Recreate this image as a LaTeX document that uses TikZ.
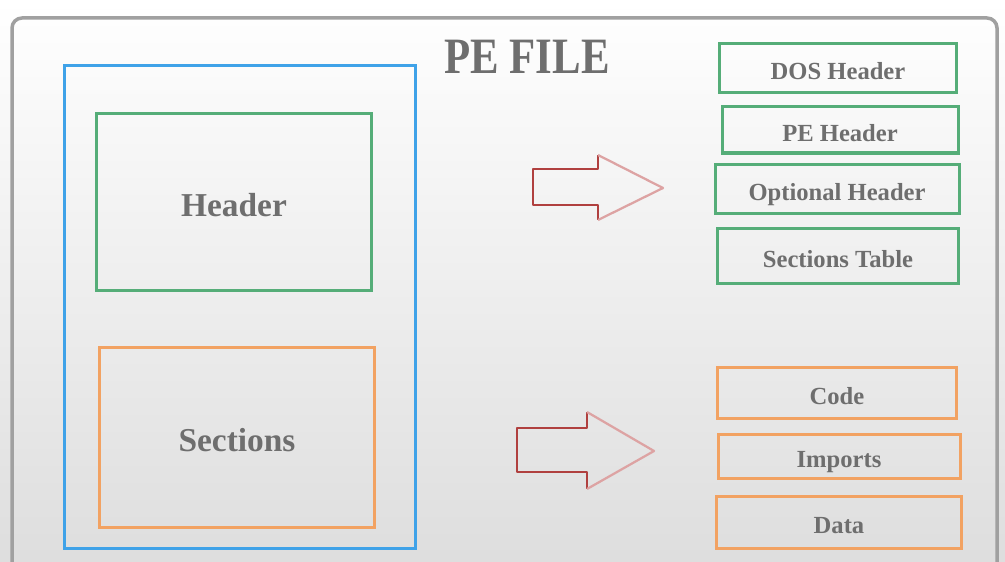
\documentclass[tikz,border=0pt]{standalone}
\usepackage{fontspec}
\setmainfont{Liberation Serif}
\newfontfamily\titlefont[FakeStretch=0.84]{Liberation Serif}
\usetikzlibrary{positioning}

\definecolor{penGray}{HTML}{A0A0A0}
\definecolor{textGray}{HTML}{6E6E6E}
\definecolor{fileBlue}{HTML}{3FA2E8}
\definecolor{hdrGreen}{HTML}{55AD78}
\definecolor{secOrange}{HTML}{F2A262}
\definecolor{arrowRed}{HTML}{B0403F}
\definecolor{arrowPink}{HTML}{DDA3A3}

\tikzset{
  part/.style={draw, line width=0.6mm, text=textGray, text height=16.5pt, text depth=0pt,
    font=\bfseries\fontsize{19}{22}\selectfont},
  item/.style={draw, line width=0.6mm, text=textGray, text height=12.7pt, text depth=0pt,
    font=\bfseries\fontsize{14}{16}\selectfont},
  bigarrow/.style={draw=arrowRed, line width=0.45mm, line join=round}
}

\begin{document}
\begin{tikzpicture}[x=0.2mm, y=-0.2mm]
  % 1. Page and background
  \useasboundingbox (0,0) rectangle (1005,561);
  \clip (0,0) rectangle (1005,561);
  \shade[top color=white, middle color=white, bottom color=black!13] (0,0) rectangle (1005,561);
  \draw[penGray, line width=0.7mm, rounded corners=2mm] (12,600) -- (12,18) -- (997,18) -- (997,600);

  % 2. Title
  \node[text=textGray, font=\titlefont\bfseries\fontsize{29}{32}\selectfont] (title) at (527,57) {PE FILE};

  % 3. The file and its two parts
  \node[part, draw=fileBlue, minimum width=70mm, minimum height=96.4mm] (pefile) at (240,307) {};
  \node[part, draw=hdrGreen, minimum width=54.8mm, minimum height=35.2mm] (header) at (234,202) {Header};
  \node[part, draw=secOrange, minimum width=54.8mm, minimum height=36mm] (sections) at (237,437) {Sections};

  % 4. What the header holds
  \node[item, draw=hdrGreen, minimum width=47.4mm, minimum height=9.8mm] (dos) at (838,68) {DOS Header};
  \node[item, draw=hdrGreen, minimum width=47.2mm, minimum height=9.2mm] (pehdr) at (840,130) {PE Header};
  \node[item, draw=hdrGreen, minimum width=48.8mm, minimum height=9.6mm] (opthdr) at (837,189) {Optional Header};
  \node[item, draw=hdrGreen, minimum width=48.2mm, minimum height=11mm] (sectab) at (838,256) {Sections Table};

  % 5. What the sections hold
  \node[item, draw=secOrange, minimum width=47.8mm, minimum height=10.2mm] (code) at (837,393) {Code};
  \node[item, draw=secOrange, minimum width=48.4mm, minimum height=8.8mm] (imports) at (839,456) {Imports};
  \node[item, draw=secOrange, minimum width=49mm, minimum height=10.4mm] (data) at (839,522) {Data};

  % 6. Block arrows
  \draw[bigarrow] (598,155) -- (598,169) -- (533,169) -- (533,205) -- (598,205) -- (598,220);
  \draw[bigarrow, draw=arrowPink] (598,155) -- (663,188) -- (598,220);
  \draw[bigarrow] (587,412) -- (587,428) -- (517,428) -- (517,472) -- (587,472) -- (587,489);
  \draw[bigarrow, draw=arrowPink] (587,412) -- (654,451) -- (587,489);
\end{tikzpicture}
\end{document}
